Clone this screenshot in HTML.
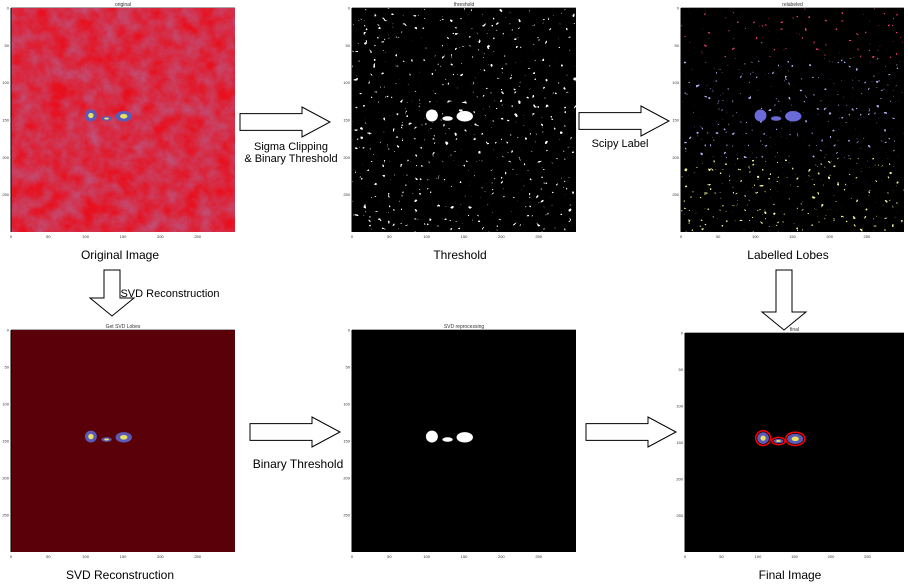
<!DOCTYPE html>
<html><head><meta charset="utf-8"><style>
body{margin:0;width:908px;height:584px;background:#fff;overflow:hidden;font-family:"Liberation Sans",sans-serif}
svg{position:absolute;left:0;top:0}
</style></head><body>
<svg id="s" width="908" height="584" viewBox="0 0 908 584">
<defs>
<filter id="noise" x="0" y="0" width="100%" height="100%"><feTurbulence type="fractalNoise" baseFrequency="0.06" numOctaves="4" seed="3"/><feColorMatrix type="matrix" values="0 0 0 0 0.35  0 0 0 0 0.22  0 0 0 0 0.5  0 0 0 0.9 -0.2"/></filter>
<filter id="speck" x="0" y="0" width="100%" height="100%"><feTurbulence type="fractalNoise" baseFrequency="0.22" numOctaves="2" seed="7"/><feColorMatrix type="matrix" values="0 0 0 0 1  0 0 0 0 1  0 0 0 0 1  0 0 0 24 -17.5"/></filter>
<filter id="speckR" x="0" y="0" width="100%" height="100%"><feTurbulence type="fractalNoise" baseFrequency="0.25" numOctaves="2" seed="11"/><feColorMatrix type="matrix" values="0 0 0 0 0.85  0 0 0 0 0.05  0 0 0 0 0.15  0 0 0 24 -18"/></filter>
<filter id="speckB" x="0" y="0" width="100%" height="100%"><feTurbulence type="fractalNoise" baseFrequency="0.25" numOctaves="2" seed="13"/><feColorMatrix type="matrix" values="0 0 0 0 0.4  0 0 0 0 0.4  0 0 0 0 0.85  0 0 0 24 -17.5"/></filter>
<filter id="speckY" x="0" y="0" width="100%" height="100%"><feTurbulence type="fractalNoise" baseFrequency="0.25" numOctaves="2" seed="17"/><feColorMatrix type="matrix" values="0 0 0 0 0.85  0 0 0 0 0.85  0 0 0 0 0.3  0 0 0 24 -17.2"/></filter>
</defs>
<g id="panels"></g>
<g id="arrows"></g>
<g id="labels" font-size="12" fill="#000"></g>
</svg>
<script>
const NS="http://www.w3.org/2000/svg";
const tickVals=[0,50,100,150,200,250];
const tickLabels=["0","50","100","150","200","250"];
const domainMax=300;
const blobCx=[107,128,151];
const blobCy=[144,148,145];
const blobRx=[8,7,11];
const blobRy=[8,3,7];
const panelTitles=["original","threshold","relabeled","Get SVD Lobes","SVD reprocessing","final"];
const panels=[
 {x:11,y:8,w:224,h:224,bg:"#e8101e",kind:"orig"},
 {x:352,y:8,w:224,h:224,bg:"#000",kind:"thresh"},
 {x:681,y:8,w:223,h:224,bg:"#000",kind:"label"},
 {x:11,y:330,w:224,h:222,bg:"#5a0008",kind:"svd"},
 {x:352,y:330,w:224,h:222,bg:"#000",kind:"bin"},
 {x:685,y:333,w:219,h:219,bg:"#000",kind:"final"}
];
function el(t,a,p){const e=document.createElementNS(NS,t);for(const k in a)e.setAttribute(k,a[k]);p.appendChild(e);return e;}
const G=document.getElementById('panels');
panels.forEach((p,i)=>{
 const sx=v=>p.x+v/domainMax*p.w, sy=v=>p.y+v/domainMax*p.h;
 const g=el('g',{},G);
 
 
 const r=el('rect',{x:p.x,y:p.y,width:p.w,height:p.h,fill:p.bg},g);
 
 
 if(p.kind==="orig")el('rect',{x:p.x,y:p.y,width:p.w,height:p.h,filter:"url(#noise)"},g);
 if(p.kind==="thresh")el('rect',{x:p.x,y:p.y,width:p.w,height:p.h,filter:"url(#speck)"},g);
 if(p.kind==="label"){
  el('rect',{x:p.x,y:p.y,width:p.w,height:50,filter:"url(#speckR)"},g);
  el('rect',{x:p.x,y:p.y+50,width:p.w,height:100,filter:"url(#speckB)"},g);
  el('rect',{x:p.x,y:p.y+150,width:p.w,height:p.h-150,filter:"url(#speckY)"},g);
 }
 blobCx.forEach((c,j)=>{
  const cx=sx(c),cy=sy(blobCy[j]),rx=blobRx[j]/domainMax*p.w,ry=blobRy[j]/domainMax*p.h;
  let b;
  if(p.kind==="thresh"||p.kind==="bin"){b=el('ellipse',{cx,cy,rx,ry,fill:"#fff"},g);}
  else if(p.kind==="label"){b=el('ellipse',{cx,cy,rx,ry,fill:"#6a6ad8"},g);}
  else{
   if(p.kind==="final")el('ellipse',{cx,cy,rx:rx+1.5,ry:ry+1.5,fill:"none",stroke:"#f00",'stroke-width':1.5},g);
   b=el('ellipse',{cx,cy,rx,ry,fill:"#5a5ab8"},g);
   el('ellipse',{cx,cy,rx:rx*0.45,ry:ry*0.45,fill:"#e8e060"},g);
  }
  
  
 });
 el('line',{x1:p.x,y1:p.y,x2:p.x,y2:p.y+p.h,stroke:"#000",'stroke-width':1},g);
 el('line',{x1:p.x,y1:p.y-0.5,x2:p.x+p.w,y2:p.y-0.5,stroke:"#aaa",'stroke-width':1},g);
 tickVals.forEach((v,k)=>{
  const tx=el('text',{x:sx(v),y:p.y+p.h+6,'font-size':4,'text-anchor':'middle',fill:'#333'},g);
  tx.textContent=tickLabels[k];
  
  
  const ty=el('text',{x:p.x-2,y:sy(v)+1.5,'font-size':4,'text-anchor':'end',fill:'#333'},g);
  ty.textContent=tickLabels[k];
  
  
 });
 const t=el('text',{x:p.x+p.w/2,y:p.y-2,'font-size':5,'text-anchor':'middle',fill:'#333'},g);
 t.textContent=panelTitles[i];
 
 
});
const A=document.getElementById('arrows');
function rArrow(x,y,w,h){
 const s=h*0.28;
 const pts=[[x,y-s],[x+w-28,y-s],[x+w-28,y-h/2],[x+w,y],[x+w-28,y+h/2],[x+w-28,y+s],[x,y+s]];
 const e=el('polygon',{points:pts.map(q=>q.join(',')).join(' '),fill:"#fff",stroke:"#000",'stroke-width':1},A);
 
 
}
function dArrow(cx,y,h,w){
 const s=8;
 const pts=[[cx-s,y],[cx+s,y],[cx+s,y+h-18],[cx+w/2,y+h-18],[cx,y+h],[cx-w/2,y+h-18],[cx-s,y+h-18]];
 const e=el('polygon',{points:pts.map(q=>q.join(',')).join(' '),fill:"#fff",stroke:"#000",'stroke-width':1},A);
 
 
}
rArrow(240,122,90,30);rArrow(579,121,90,30);rArrow(250,432,90,30);rArrow(586,432,90,30);
dArrow(112,270,46,44);dArrow(784,270,60,44);
const L=document.getElementById('labels');
const labs=[["Original Image",120,259,12],["Threshold",460,259,12],["Labelled Lobes",788,259,12],["SVD Reconstruction",120,579,12],["Final Image",790,579,12],
["Sigma Clipping",291,150,11],["& Binary Threshold",291,162,11],["Scipy Label",620,147,11],["SVD Reconstruction",170,297,11],["Binary Threshold",298,468,12]];
labs.forEach(l=>{const t=el('text',{x:l[1],y:l[2],'font-size':l[3],'text-anchor':'middle'},L);t.textContent=l[0];
 
 });
</script>
</body></html>
